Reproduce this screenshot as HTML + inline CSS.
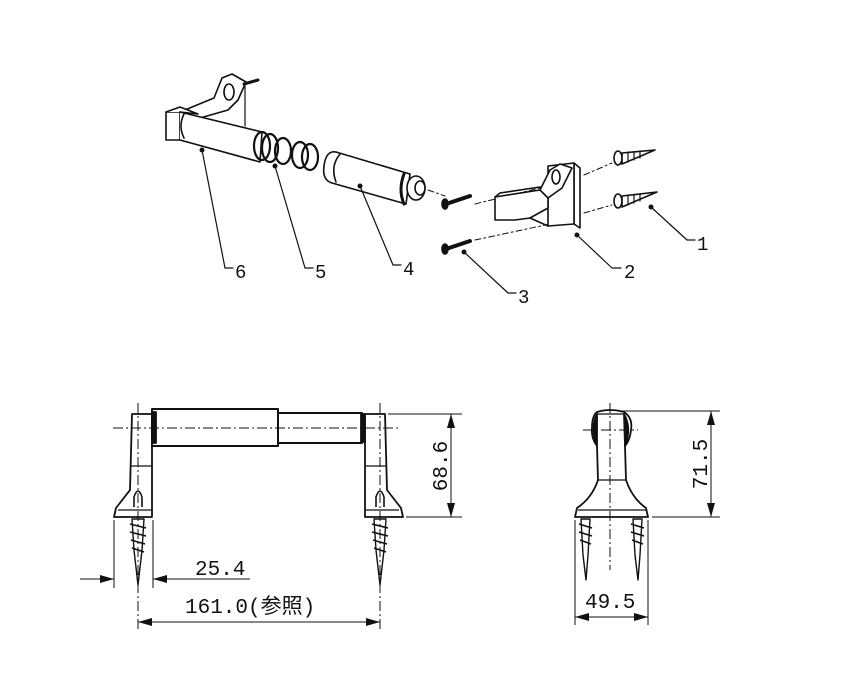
<!DOCTYPE html>
<html><head><meta charset="utf-8"><style>
html,body{margin:0;padding:0;background:#fff}
svg{display:block}
text{font-family:"Liberation Mono","Noto Sans CJK JP",monospace;fill:#111}
</style></head><body>
<svg width="852" height="693" viewBox="0 0 852 693" xmlns="http://www.w3.org/2000/svg">
<g stroke="#111" stroke-width="1.6" fill="none" stroke-linecap="round" stroke-linejoin="round">
<!-- ===== Exploded view ===== -->
<!-- part 6 -->
<path d="M180,112 L214,98 L222,78 L232,74 L246,82 L238,100 L228,110 L200,118" fill="#fff"/>
<ellipse cx="229" cy="92" rx="5" ry="8" fill="#fff"/>
<path d="M244,84 L258,80" stroke-width="3"/>
<line x1="245" y1="86" x2="245" y2="126" stroke-width="1.2"/>
<path d="M166,112 L180,112 L180,140 L166,140 Z" fill="#fff"/>
<path d="M166,112 L180,107 L198,114 L180,112" fill="#fff"/>
<path d="M180,112 L262,132 L260,162 L180,140" fill="#fff"/>
<path d="M184,114 Q178,126 184,138"/>
<!-- springs -->
<g stroke-width="2.2">
<ellipse cx="262" cy="146" rx="8" ry="14"/>
<ellipse cx="270" cy="148" rx="8" ry="14"/>
<ellipse cx="283" cy="151" rx="8" ry="13"/>
<ellipse cx="300" cy="155" rx="8" ry="13"/>
<ellipse cx="310" cy="157" rx="8" ry="13"/>
</g>
<!-- part 4 -->
<path d="M336,152 L410,174 L406,204 L332,183 Q322,180 324,166 Q326,150 336,152 Z" fill="#fff"/>
<path d="M340,154 Q330,166 336,182"/>
<path d="M404,174 Q398,190 404,204" stroke-width="3"/>
<ellipse cx="416" cy="188" rx="9" ry="12" fill="#fff"/>
<ellipse cx="420" cy="188" rx="5" ry="7" fill="#fff"/>
<line x1="428" y1="190" x2="445" y2="196" stroke-dasharray="6,3,2,3" stroke-width="1"/>
<!-- screws 3 -->
<path d="M446,204 L470,196" stroke-width="4"/>
<ellipse cx="445" cy="204" rx="3" ry="5" fill="#111"/>
<path d="M446,249 L470,241" stroke-width="4"/>
<ellipse cx="445" cy="249" rx="3" ry="5" fill="#111"/>
<line x1="475" y1="204" x2="548" y2="186" stroke-dasharray="6,3,2,3" stroke-width="1"/>
<line x1="475" y1="240" x2="550" y2="224" stroke-dasharray="6,3,2,3" stroke-width="1"/>
<!-- part 2 -->
<path d="M574,163 L580,168 L580,228 L574,224 Z" fill="#fff"/>
<path d="M548,166 L574,163 L574,224 L548,226 Z" fill="#fff"/>
<path d="M540,190 L550,170 L560,164 L572,168 L562,188 L548,198" fill="#fff"/>
<ellipse cx="556" cy="177" rx="4" ry="7" fill="#fff"/>
<path d="M495,197 L540,190 L548,198 L548,208 L530,218 L515,220 L495,220 Z" fill="#fff"/>
<path d="M495,197 L500,193 L540,187"/>
<path d="M530,218 L548,226"/>
<!-- anchors 1 -->
<g>
<ellipse cx="618" cy="158" rx="4" ry="7" fill="#fff"/>
<path d="M622,153 L655,150 L622,164 Z" fill="#fff"/>
<path d="M628,152 L628,162 M634,152 L634,160 M640,151 L640,158" stroke-width="1.2"/>
<ellipse cx="618" cy="201" rx="4" ry="7" fill="#fff"/>
<path d="M622,196 L657,192 L622,207 Z" fill="#fff"/>
<path d="M628,195 L628,205 M634,195 L634,203 M640,194 L640,201" stroke-width="1.2"/>
</g>
<line x1="584" y1="175" x2="612" y2="163" stroke-dasharray="6,3,2,3" stroke-width="1"/>
<line x1="584" y1="213" x2="612" y2="205" stroke-dasharray="6,3,2,3" stroke-width="1"/>
<!-- leaders -->
<g stroke-width="1.2">
<polyline points="202,150 225,268 233,268"/>
<polyline points="275,166 305,268 313,268"/>
<polyline points="360,186 393,265 401,265"/>
<polyline points="464,252 508,293 516,293"/>
<polyline points="577,235 612,268 621,268"/>
<polyline points="651,207 687,240 695,240"/>
</g>
</g>
<g fill="#111">
<circle cx="202" cy="150" r="2.5"/><circle cx="275" cy="166" r="2.5"/>
<circle cx="360" cy="186" r="2.5"/><circle cx="464" cy="252" r="2.5"/>
<circle cx="577" cy="235" r="2.5"/><circle cx="651" cy="207" r="2.5"/>
</g>
<g font-size="19">
<text x="235" y="278">6</text><text x="315" y="278">5</text>
<text x="403" y="275">4</text><text x="518" y="303">3</text>
<text x="624" y="278">2</text><text x="697" y="250">1</text>
</g>

<!-- ===== Front view ===== -->
<g stroke="#111" fill="none" stroke-width="1.8" stroke-linejoin="round">
<!-- left bracket -->
<path d="M132,414 L152,414 L152,517 L114,517 L116,508 L130,490 Z"/>
<line x1="130" y1="466" x2="152" y2="466" stroke-width="1.2"/>
<line x1="118" y1="510" x2="152" y2="510" stroke-width="1.2"/>
<path d="M134,507 L134,497 Q138,485 142,497 L142,507" stroke-width="1.6"/>
<!-- right bracket -->
<path d="M365,414 L385,414 L387,490 L401,508 L403,517 L365,517 Z"/>
<line x1="365" y1="466" x2="387" y2="466" stroke-width="1.2"/>
<line x1="365" y1="510" x2="399" y2="510" stroke-width="1.2"/>
<path d="M376,507 L376,497 Q380,485 384,497 L384,507" stroke-width="1.6"/>
<!-- roll -->
<rect x="152" y="409" width="126" height="37" fill="#fff" stroke-width="2"/>
<rect x="278" y="413" width="84" height="30" fill="#fff" stroke-width="2"/>
<rect x="152" y="412" width="4" height="31" fill="#111"/>
<rect x="361" y="414" width="4" height="28" fill="#111"/>
<!-- screws -->
<path d="M132,519 L144,519 L142,550 L138,585 L134,550 Z" stroke-width="1.4"/>
<path d="M130,524 L146,528 M130,532 L146,536 M131,540 L145,544 M132,548 L144,552" stroke-width="1.6"/>
<path d="M374,519 L386,519 L384,550 L380,585 L376,550 Z" stroke-width="1.4"/>
<path d="M372,524 L388,528 M372,532 L388,536 M373,540 L387,544 M374,548 L386,552" stroke-width="1.6"/>
</g>
<g stroke="#111" fill="none" stroke-width="1">
<line x1="113" y1="428" x2="400" y2="428" stroke-dasharray="10,3,2,3"/>
<line x1="138" y1="403" x2="138" y2="630" stroke-dasharray="10,3,2,3"/>
<line x1="380" y1="403" x2="380" y2="630" stroke-dasharray="10,3,2,3"/>
<!-- 68.6 -->
<line x1="388" y1="414" x2="462" y2="414"/>
<line x1="406" y1="517" x2="462" y2="517"/>
<line x1="451" y1="414" x2="451" y2="517"/>
<!-- 25.4 -->
<line x1="114" y1="520" x2="114" y2="588"/>
<line x1="153" y1="520" x2="153" y2="588"/>
<line x1="80" y1="579" x2="114" y2="579"/>
<line x1="153" y1="579" x2="250" y2="579"/>
<!-- 161 -->
<line x1="138" y1="622" x2="380" y2="622"/>
</g>
<g fill="#111">
<path d="M451,414 L447,428 L455,428 Z"/><path d="M451,517 L447,503 L455,503 Z"/>
<path d="M114,579 L100,575 L100,583 Z"/><path d="M153,579 L167,575 L167,583 Z"/>
<path d="M138,622 L152,618 L152,626 Z"/><path d="M380,622 L366,618 L366,626 Z"/>
</g>
<text x="195" y="575" font-size="21">25.4</text>
<text x="185" y="613" font-size="21">161.0(参照)</text>
<text transform="translate(447,466) rotate(-90)" font-size="21" text-anchor="middle">68.6</text>

<!-- ===== Side view ===== -->
<g stroke="#111" fill="none" stroke-width="1.8" stroke-linejoin="round">
<path d="M597,412 Q610,408 624,412 Q633,418 631,430 Q630,440 625,446 L626,480 Q632,498 646,508 L648,517 L575,517 L577,508 Q592,498 598,480 L597,446 Q591,438 592,428 Q592,416 597,412 Z"/>
<path d="M597,414 Q590,428 597,446 Z" fill="#111"/>
<path d="M624,414 Q632,428 625,446 Z" fill="#111"/>
<line x1="597" y1="414" x2="625" y2="414" stroke-width="1.2"/>
<line x1="597" y1="480" x2="626" y2="480" stroke-width="1.2"/>
<line x1="578" y1="510" x2="646" y2="510" stroke-width="1.2"/>
<path d="M581,519 L590,519 L588,555 L586,580 L583,555 Z" stroke-width="1.4"/>
<path d="M579,524 L592,528 M579,532 L592,536 M580,540 L591,544" stroke-width="1.6"/>
<path d="M633,519 L642,519 L640,555 L638,580 L635,555 Z" stroke-width="1.4"/>
<path d="M631,524 L644,528 M631,532 L644,536 M632,540 L643,544" stroke-width="1.6"/>
</g>
<g stroke="#111" fill="none" stroke-width="1">
<line x1="610" y1="403" x2="610" y2="570" stroke-dasharray="10,3,2,3"/>
<line x1="583" y1="430" x2="638" y2="430" stroke-dasharray="10,3,2,3"/>
<line x1="620" y1="411" x2="720" y2="411"/>
<line x1="652" y1="517" x2="720" y2="517"/>
<line x1="711" y1="411" x2="711" y2="517"/>
<line x1="575" y1="520" x2="575" y2="625"/>
<line x1="648" y1="520" x2="648" y2="625"/>
<line x1="575" y1="617" x2="648" y2="617"/>
</g>
<g fill="#111">
<path d="M711,411 L707,425 L715,425 Z"/><path d="M711,517 L707,503 L715,503 Z"/>
<path d="M575,617 L589,613 L589,621 Z"/><path d="M648,617 L634,613 L634,621 Z"/>
</g>
<text x="585" y="608" font-size="21">49.5</text>
<text transform="translate(707,464) rotate(-90)" font-size="21" text-anchor="middle">71.5</text>
</svg>
</body></html>
